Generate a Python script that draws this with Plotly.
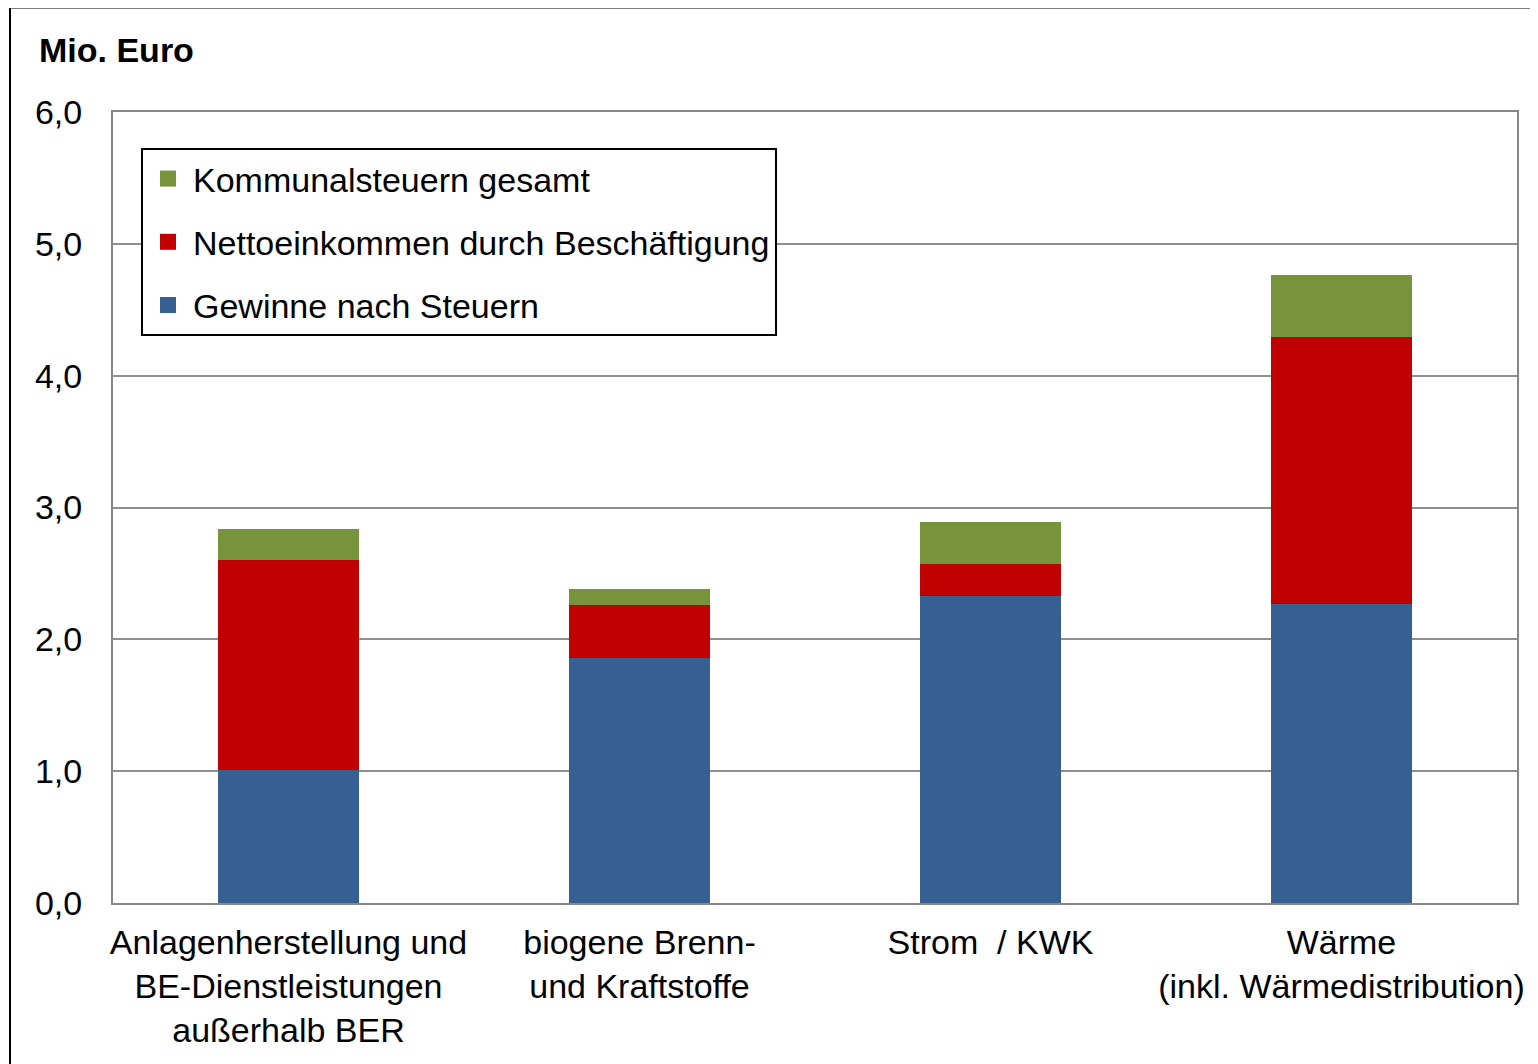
import plotly.graph_objects as go

categories = [
    "Anlagenherstellung und<br>BE-Dienstleistungen<br>außerhalb BER",
    "biogene Brenn-<br>und Kraftstoffe",
    "Strom\u00a0 / KWK",
    "Wärme<br>(inkl. Wärmedistribution)",
]
gewinne = [1.01, 1.86, 2.33, 2.27]
netto = [1.59, 0.40, 0.24, 2.02]
kommunal = [0.24, 0.12, 0.32, 0.47]
y_ticks = [0, 1, 2, 3, 4, 5, 6]

series = [
    ("Gewinne nach Steuern", gewinne, "#376092", 3),
    ("Nettoeinkommen durch Beschäftigung", netto, "#C00000", 2),
    ("Kommunalsteuern gesamt", kommunal, "#77933C", 1),
]

FONT = "Liberation Sans, Arial, sans-serif"
OFF = 8  # page body margin
W, H = 1538 - OFF, 1064 - OFF
PL, PR, PT, PB = 113, 1517, 112, 903  # plot area in screenshot px
L, R, T, B = PL - OFF, 1538 - PR, PT - OFF, 1064 - PB
PW, PH = PR - PL, PB - PT

def px_x(p):
    return (p - PL) / PW

def px_y(p):
    return (PB - p) / PH

fig = go.Figure()
for name, vals, color, rank in series:
    fig.add_trace(go.Bar(x=categories, y=vals, name=name, showlegend=False,
                         marker=dict(color=color, line=dict(width=0))))
for name, vals, color, rank in series:
    fig.add_trace(go.Scatter(x=[None], y=[None], mode="markers", name=name,
                             legendgroup=name, legendrank=rank,
                             marker=dict(symbol="square", size=18, color=color)))

fig.update_layout(
    width=W, height=H,
    barmode="stack", bargap=0.6,
    separators=",.",
    paper_bgcolor="white", plot_bgcolor="white",
    margin=dict(l=L, r=R, t=T, b=B, autoexpand=False),
    font=dict(family=FONT, size=34, color="black"),
    showlegend=True,
    legend=dict(
        x=px_x(141), y=px_y(148), xanchor="left", yanchor="top",
        bordercolor="black", borderwidth=2, bgcolor="white",
        traceorder="grouped", tracegroupgap=16,
        itemwidth=40, itemsizing="trace",
        entrywidth=610, entrywidthmode="pixels",
        font=dict(family=FONT, size=34, color="black"),
    ),
    xaxis=dict(
        showline=True, linecolor="#878787", linewidth=2, mirror=True,
        ticks="", ticklabelstandoff=8,
        tickfont=dict(family=FONT, size=34, color="black"),
    ),
    yaxis=dict(
        range=[0, 6], tickvals=y_ticks, tickformat=".1f",
        showline=True, linecolor="#878787", linewidth=2, mirror=True,
        showgrid=True, gridcolor="#8f8f8f", gridwidth=2,
        zeroline=False, ticks="", ticklabelstandoff=22,
        tickfont=dict(family=FONT, size=34, color="black"),
    ),
    shapes=[
        dict(type="rect", xref="paper", yref="paper",
             x0=px_x(10), x1=px_x(1560), y0=px_y(7.5), y1=px_y(1090),
             line=dict(color="black", width=2), layer="below"),
    ],
    annotations=[
        dict(text="<b>Mio. Euro</b>", xref="paper", yref="paper",
             x=px_x(37), y=px_y(50), xanchor="left", yanchor="middle",
             showarrow=False, font=dict(family=FONT, size=34, color="black")),
    ],
)

fig.write_html("out.html")
